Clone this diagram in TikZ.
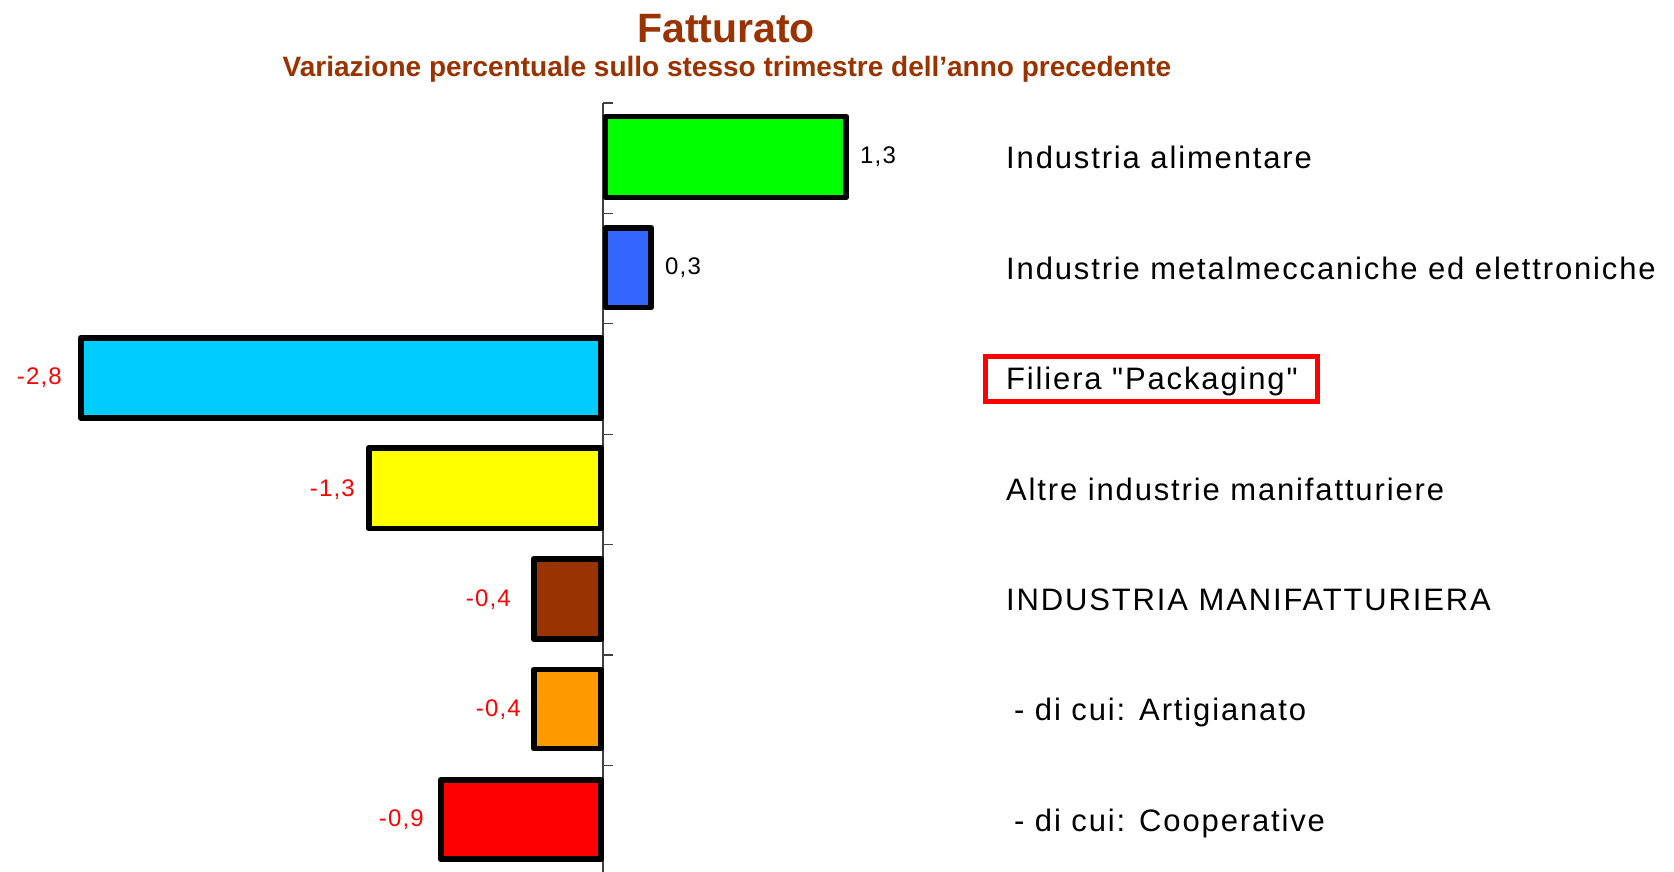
\documentclass[tikz,border=0pt]{standalone}
\usepackage{fontspec}
\setmainfont{Liberation Sans}
\newfontfamily\labfont[LetterSpace=6]{Liberation Sans}
\newfontfamily\valfont[LetterSpace=5]{Liberation Sans}
\definecolor{titlebrown}{HTML}{993300}
\definecolor{cgreen}{HTML}{00FF00}
\definecolor{cblue}{HTML}{3366FF}
\definecolor{ccyan}{HTML}{00CCFF}
\definecolor{cyellow}{HTML}{FFFF00}
\definecolor{cbrown}{HTML}{993300}
\definecolor{corange}{HTML}{FF9900}
\definecolor{cred}{HTML}{FF0000}
\tikzset{
  barbox/.style={draw=black, line width=5.8pt, line join=round},
  axisline/.style={draw=black!75, line width=1.3pt},
  catlabel/.style={anchor=base west, inner sep=0pt, font=\labfont\fontsize{31}{35}\selectfont, text=black},
  posval/.style={anchor=base west, inner sep=0pt, font=\valfont\fontsize{24}{28}\selectfont, text=black},
  negval/.style={anchor=base east, inner sep=0pt, font=\valfont\fontsize{24}{28}\selectfont, text=cred},
}
\begin{document}
\begin{tikzpicture}[x=1pt,y=-1pt]
\fill[white] (0,0) rectangle (1674,872);
\useasboundingbox (0,0) rectangle (1674,872);
% title
\node[anchor=base, inner sep=0pt, text=titlebrown, font=\bfseries\fontsize{41}{46}\selectfont] (title) at (726,43) {Fatturato};
\node[anchor=base, inner sep=0pt, text=titlebrown, font=\bfseries\fontsize{28}{32}\selectfont] (subtitle) at (727,77) {Variazione percentuale sullo stesso trimestre dell’anno precedente};
% axis
\draw[axisline] (603,103) -- (603,872);
\foreach \k in {0,...,6} {
  \draw[axisline] (603,103+110.4*\k) -- (613,103+110.4*\k);
}
% bars (centre lines of outlines)
\draw[barbox, fill=cgreen]  (605.5,116.5) rectangle (846.2,197.5);
\draw[barbox, fill=cblue]   (605.5,227.7) rectangle (651.2,307.5);
\draw[barbox, fill=ccyan]   (80.7,337.7)  rectangle (601.2,417.7);
\draw[barbox, fill=cyellow] (368.7,447.7) rectangle (601.2,528.5);
\draw[barbox, fill=cbrown]  (533.7,558.7) rectangle (601.2,639.3);
\draw[barbox, fill=corange] (533.7,669.5) rectangle (601.2,748.5);
\draw[barbox, fill=cred]    (440.7,779.7) rectangle (601.2,859.3);
% value labels
\node[posval] (v1) at (860,164) {1,3};
\node[posval] (v2) at (665,274) {0,3};
\node[negval] (v3) at (62,384) {-2,8};
\node[negval] (v4) at (355,496) {-1,3};
\node[negval] (v5) at (511,606) {-0,4};
\node[negval] (v6) at (521,716) {-0,4};
\node[negval] (v7) at (424,826) {-0,9};
% category labels
\node[catlabel] (l1) at (1006,168) {Industria alimentare};
\node[catlabel] (l2) at (1006,279) {Industrie metalmeccaniche ed elettroniche};
\node[catlabel] (l3) at (1006,389) {Filiera "Packaging"};
\node[catlabel] (l4) at (1006,500) {Altre industrie manifatturiere};
\node[catlabel] (l5) at (1006,610) {INDUSTRIA MANIFATTURIERA};
\node[catlabel] (l6) at (1014,720) {- di cui: Artigianato};
\node[catlabel] (l7) at (1014,831) {- di cui: Cooperative};
% highlight box
\node[draw=cred, line width=5pt, minimum width=332pt, minimum height=45pt, inner sep=0pt] (hbox) at (1151.5,378.5) {};
\end{tikzpicture}
\end{document}
